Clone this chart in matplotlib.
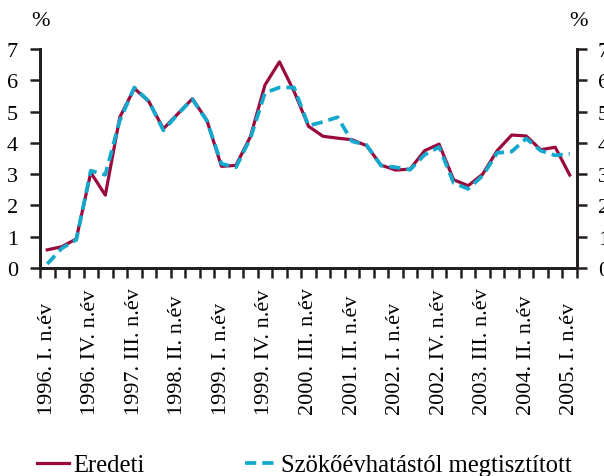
import matplotlib.pyplot as plt

# betutipus: Times-szeru
plt.rcParams['font.family'] = ['Liberation Serif', 'DejaVu Serif']

romai = ['I', 'II', 'III', 'IV']
negyedevek = [f"{ev}. {romai[q]}. n.év" for ev in range(1996, 2006) for q in range(4)][:37]

eredeti = [0.58, 0.68, 0.93, 3.05, 2.33, 4.82, 5.74, 5.32, 4.45, 4.93,
           5.41, 4.72, 3.25, 3.28, 4.20, 5.85, 6.59, 5.65, 4.53, 4.21,
           4.15, 4.10, 3.91, 3.29, 3.13, 3.16, 3.75, 3.96, 2.82, 2.63,
           3.00, 3.75, 4.25, 4.22, 3.78, 3.86, 2.97]
megtisztitott = [0.13, 0.63, 0.90, 3.11, 2.98, 4.72, 5.77, 5.33, 4.40, 4.92,
                 5.40, 4.70, 3.33, 3.22, 4.15, 5.60, 5.77, 5.77, 4.55, 4.67,
                 4.82, 4.05, 3.93, 3.27, 3.22, 3.14, 3.62, 3.87, 2.72, 2.53,
                 2.95, 3.68, 3.72, 4.14, 3.75, 3.60, 3.65]

piros = '#9b0a3c'
kek = '#12a9cc'
sotet = '#231f20'
fs = 16

fig = plt.figure(figsize=(6.04, 4.77), dpi=100)
ax = fig.add_axes([40 / 604, 1 - 269 / 477, 537 / 604, 219 / 477])

x = list(range(len(eredeti)))
ax.plot(x, eredeti, color=piros, lw=2.3, label='Eredeti', zorder=2)
ax.plot(x, megtisztitott, color=kek, lw=2.7, linestyle=(0, (3, 1.6)),
        label='Szökőévhatástól megtisztított', zorder=3)

ax.set_xlim(-0.5, len(x) - 0.5)
ax.set_ylim(0, 7)
ax.set_yticks(range(0, 8))

# x tengely: kis jelolesek a negyedevek hataran, feliratok minden 3.-nal
# a feliratok alja egy vonalban van (y = 415 px)
ax.set_xticks([i - 0.5 for i in range(len(x) + 1)], minor=True)
ax.set_xticks(x[::3])
ax.set_xticklabels(negyedevek[::3], rotation=90, fontsize=fs, va='bottom')
ax.tick_params(axis='x', which='major', length=0, pad=(415 - 269) * 0.72)
ax.tick_params(axis='x', which='minor', length=7, width=1.8, color=sotet)
ax.tick_params(axis='y', length=7, width=1.8, color=sotet, labelsize=fs, pad=9)

ax2 = ax.twinx()
ax2.set_ylim(0, 7)
ax2.set_yticks(range(0, 8))
ax2.tick_params(axis='y', length=7, width=1.8, color=sotet, labelsize=fs, pad=8)

for a in (ax, ax2):
    a.spines['top'].set_visible(False)
    for s in ('left', 'right', 'bottom'):
        a.spines[s].set_linewidth(2)
        a.spines[s].set_color(sotet)

fig.text(41 / 604, 1 - 21 / 477, '%', fontsize=fs, ha='center', va='center')
fig.text(578 / 604, 1 - 21 / 477, '%', fontsize=fs, ha='center', va='center')

fig.legend(loc='center left', bbox_to_anchor=(37 / 604, 1 - 466 / 477), ncol=2,
           frameon=False, fontsize=17.7, handlelength=1.32, handletextpad=0.15,
           columnspacing=4.1, borderaxespad=0, borderpad=0)

fig.savefig('out.png', dpi=100)
